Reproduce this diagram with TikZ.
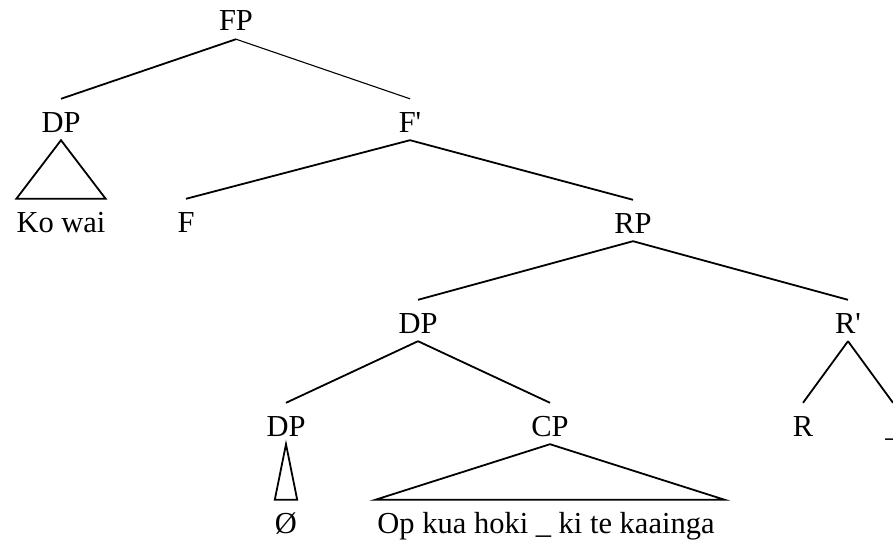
\documentclass[tikz,border=0pt]{standalone}
\usepackage{fontspec}
\setmainfont{Liberation Serif}
\begin{document}
\begin{tikzpicture}[x=1pt, y=-1pt]
\tikzset{
  lab/.style={inner xsep=0pt, inner ysep=8pt, text height=25pt, text depth=0pt,
              anchor=base, font=\fontsize{30.5}{33}\selectfont},
  branch/.style={line width=1.8pt},
  thin branch/.style={line width=1.1pt},
}
\useasboundingbox (0,0) rectangle (893,543);
\clip (0,0) rectangle (893,543);

% labels
\node[lab] (fp)    at (236,31)  {FP};
\node[lab] (dpa)   at (61,132)  {DP};
\node[lab] (fbar)  at (410,132) {F\textquotesingle};
\node[lab] (kowai) at (61,232)  {Ko wai};
\node[lab] (f)     at (186,232) {F};
\node[lab] (rp)    at (633,233) {RP};
\node[lab] (dpb)   at (418,333) {DP};
\node[lab] (rbar)  at (848,333) {R\textquotesingle};
\node[lab] (dpc)   at (286,436) {DP};
\node[lab] (cp)    at (550,436) {CP};
\node[lab] (r)     at (803,436) {R};
\node[lab] (us)    at (893,436) {\_};
\node[lab] (null)  at (286,533) {Ø};
\node[lab] (op)    at (546,533) {Op kua hoki \_ ki te kaainga};

% branches
\draw[branch]      (fp.south)   -- (dpa.north);
\draw[thin branch] (fp.south)   -- (fbar.north);
\draw[branch]      (fbar.south) -- (f.north);
\draw[branch]      (fbar.south) -- (rp.north);
\draw[branch]      (rp.south)   -- (dpb.north);
\draw[branch]      (rp.south)   -- (rbar.north);
\draw[branch]      (dpb.south)  -- (dpc.north);
\draw[branch]      (dpb.south)  -- (cp.north);
\draw[branch]      (rbar.south) -- (r.north);
\draw[branch]      (rbar.south) -- (us.north);

% triangles over unanalysed material
\draw[branch] (dpa.south) -- (kowai.north west) -- (kowai.north east) -- cycle;
\draw[branch] (dpc.south) -- (null.north west) -- (null.north east) -- cycle;
\draw[branch] (cp.south) -- ([xshift=-2pt]op.north west) -- ([xshift=10pt]op.north east) -- cycle;
\end{tikzpicture}
\end{document}
